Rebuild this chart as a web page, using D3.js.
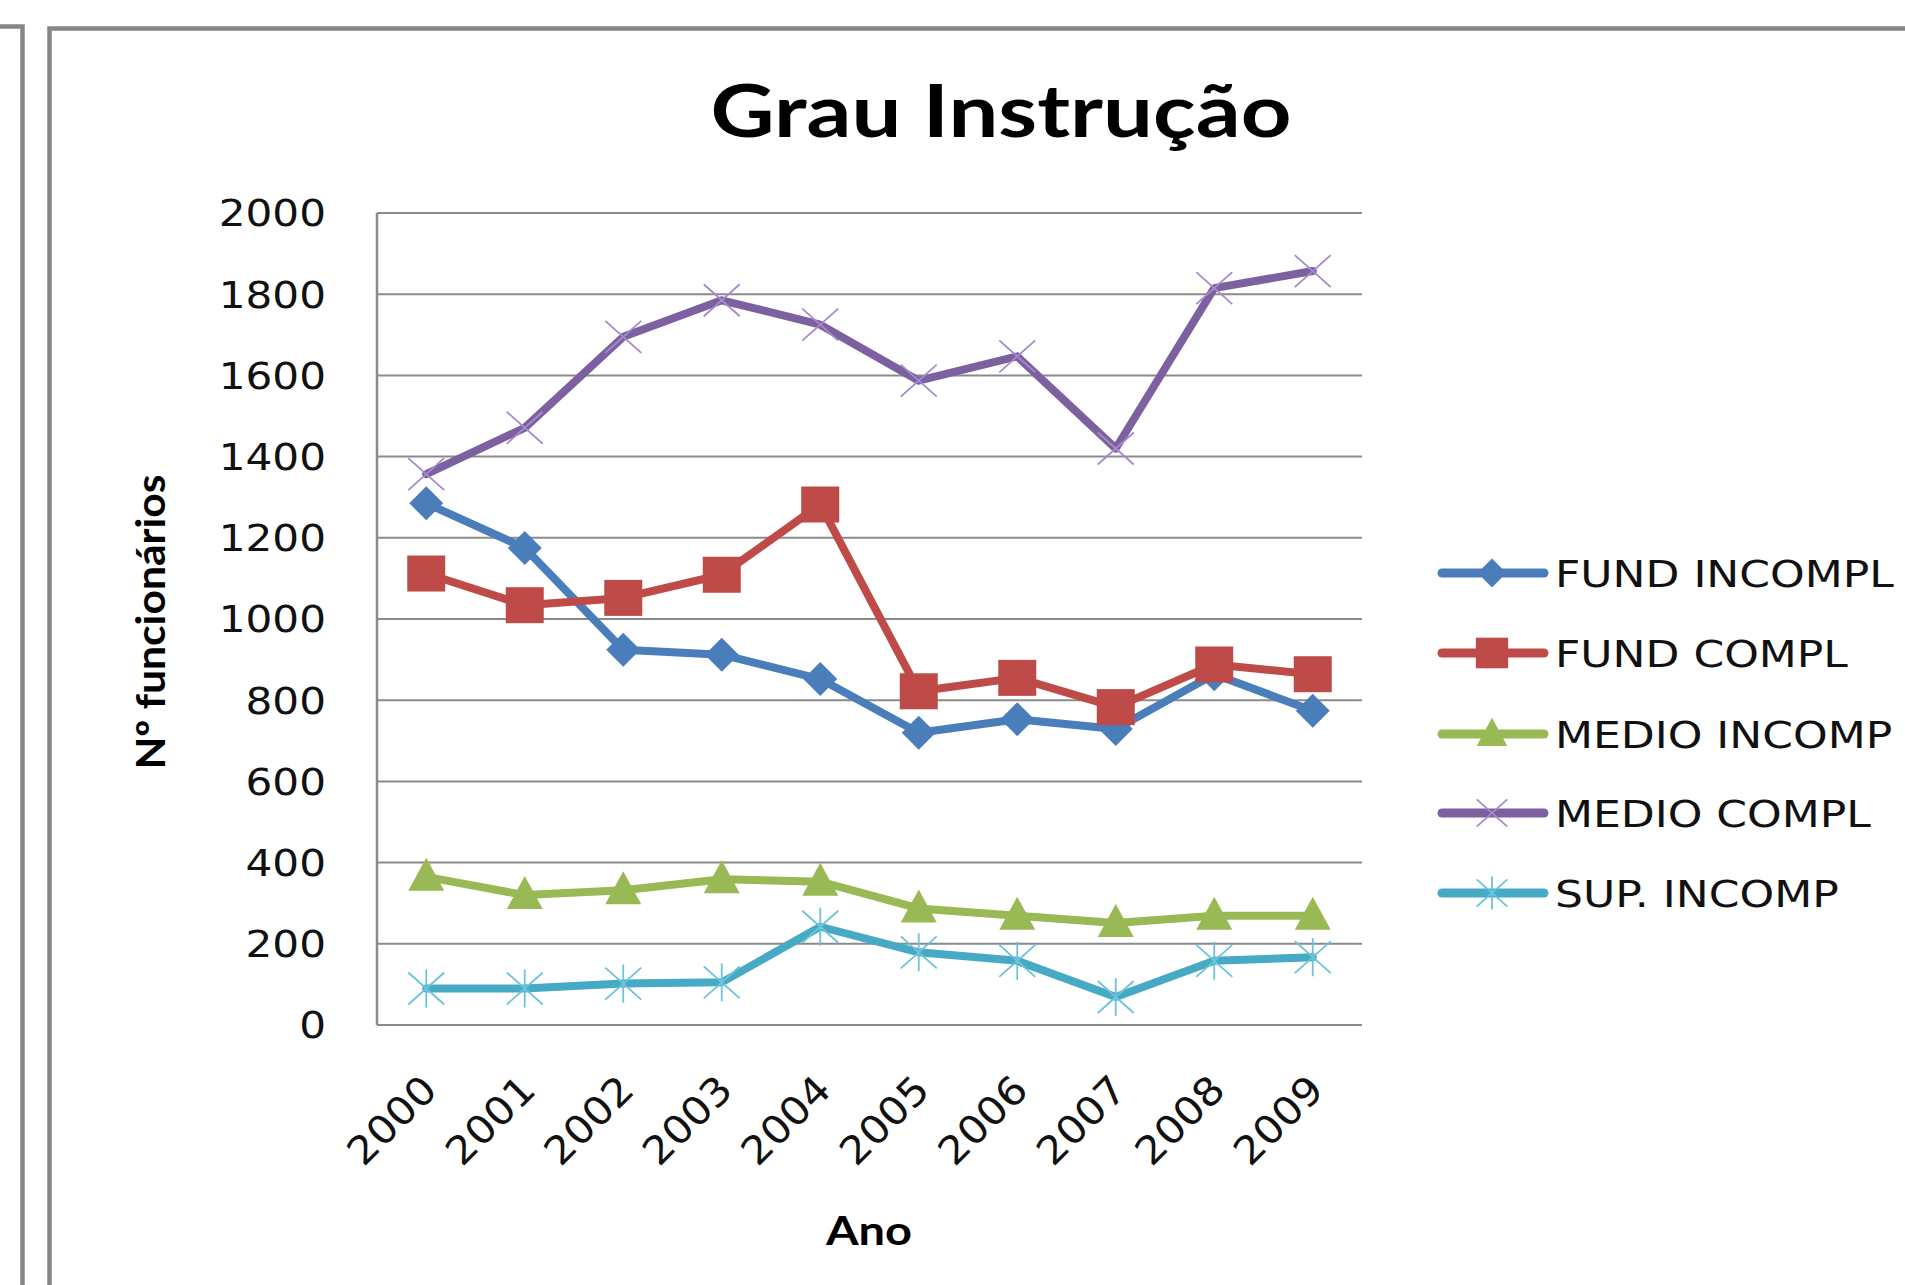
<!DOCTYPE html>
<html lang="pt">
<head>
<meta charset="UTF-8">
<title>Grau Instrução</title>
<script src="https://d3js.org/d3.v7.min.js"></script>
<style>
    body { margin: 0; background: #fff; overflow: hidden; }
    svg { display: block; }
</style>
</head>
<body>
<svg id="chart" width="1905" height="1285"></svg>
<script>
// data
const years = ["2000", "2001", "2002", "2003", "2004", "2005", "2006", "2007", "2008", "2009"];
const fundIncompl = [1285, 1175, 924, 912, 852, 720, 753, 729, 864, 774];
const fundCompl   = [1112, 1034, 1052, 1109, 1282, 822, 855, 783, 888, 864];
const medioIncomp = [365, 320, 332, 359, 353, 287, 269, 251, 269, 269];
const medioCompl  = [1357, 1471, 1695, 1785, 1725, 1587, 1647, 1420, 1815, 1857];
const supIncomp   = [90, 90, 102, 105, 242, 179, 158, 69, 158, 167];
const seriesNames = ["FUND INCOMPL", "FUND COMPL", "MEDIO INCOMP", "MEDIO COMPL", "SUP. INCOMP"];
const yTicks = [0, 200, 400, 600, 800, 1000, 1200, 1400, 1600, 1800, 2000];

const colors = ["#4a7ebb", "#be4b48", "#98b954", "#7d60a0", "#46aac5"];
const markColors = ["#4a7ebb", "#be4b48", "#98b954", "#a58bc9", "#6cc3dc"];
const markers = ["diamond", "square", "triangle", "x", "star"];
const series = [fundIncompl, fundCompl, medioIncomp, medioCompl, supIncomp];

const svg = d3.select("#chart");

// frames (neighbour chart edge + this chart)
svg.append("path").attr("d", "M0,26.5H22.5V1285").attr("fill", "none")
    .attr("stroke", "#868686").attr("stroke-width", 4.5);
svg.append("path").attr("d", "M49.5,1285V28.5H1905").attr("fill", "none")
    .attr("stroke", "#868686").attr("stroke-width", 4.5);

const plot = { left: 377, right: 1362, top: 213, bottom: 1025 };

const x = d3.scaleBand().domain(years).range([plot.left, plot.right]);
const y = d3.scaleLinear().domain([0, 2000]).range([plot.bottom, plot.top]);
const cx = d => x(d) + x.bandwidth() / 2;

// stretch text horizontally like the original
function stretch(sel, k) {
    sel.each(function() {
        const w = this.getComputedTextLength();
        d3.select(this).attr("textLength", w * k).attr("lengthAdjust", "spacingAndGlyphs");
    });
}

// title
svg.append("text")
    .attr("x", 1001).attr("y", 137)
    .attr("text-anchor", "middle")
    .style("font-family", "Lato, sans-serif").style("font-weight", "bold").style("font-size", "72px")
    .attr("textLength", 581).attr("lengthAdjust", "spacingAndGlyphs")
    .text("Grau Instrução");

// gridlines
svg.append("g").selectAll("line").data(yTicks).enter().append("line")
    .attr("x1", plot.left).attr("x2", plot.right)
    .attr("y1", d => y(d)).attr("y2", d => y(d))
    .attr("stroke", "#8a8a8a").attr("stroke-width", 2);

// left axis line
svg.append("line")
    .attr("x1", plot.left).attr("x2", plot.left)
    .attr("y1", plot.top).attr("y2", plot.bottom)
    .attr("stroke", "#8a8a8a").attr("stroke-width", 2.5);

// y tick labels
svg.append("g").selectAll("text").data(yTicks).enter().append("text")
    .attr("x", 326).attr("y", d => y(d)).attr("dy", "0.36em")
    .attr("text-anchor", "end")
    .style("font-family", "'DejaVu Sans', Verdana, sans-serif").style("font-size", "37px")
    .attr("fill", "#111")
    .text(d => d)
    .call(stretch, 1.14);

// x tick labels
svg.append("g").selectAll("text").data(years).enter().append("text")
    .attr("text-anchor", "end")
    .attr("transform", d => `translate(${cx(d) + 13},${plot.bottom + 67}) rotate(-45)`)
    .style("font-family", "'DejaVu Sans', Verdana, sans-serif").style("font-size", "39px")
    .attr("fill", "#111")
    .text(d => d)
    .call(stretch, 1.08);

// axis titles
svg.append("text")
    .attr("transform", `translate(165,622) rotate(-90)`)
    .attr("text-anchor", "middle")
    .style("font-family", "Lato, sans-serif").style("font-weight", "bold").style("font-size", "40px")
    .attr("textLength", 295).attr("lengthAdjust", "spacingAndGlyphs")
    .text("Nº funcionários");

svg.append("text")
    .attr("x", 869).attr("y", 1245)
    .attr("text-anchor", "middle")
    .style("font-family", "Lato, sans-serif").style("font-weight", "bold").style("font-size", "40px")
    .attr("textLength", 86).attr("lengthAdjust", "spacingAndGlyphs")
    .text("Ano");

// marker shapes
function drawMarker(g, type, color, big) {
    const k = big ? 1 : 0.85;
    if (type === "diamond") {
        g.append("path").attr("d", `M0,${-17 * k}L${17 * k},0L0,${17 * k}L${-17 * k},0Z`).attr("fill", color);
    } else if (type === "square") {
        g.append("rect").attr("x", -19 * k).attr("y", -18 * k).attr("width", 38 * k).attr("height", 36 * k).attr("fill", color);
    } else if (type === "triangle") {
        g.append("path").attr("d", `M0,${-19 * k}L${18 * k},${14 * k}L${-18 * k},${14 * k}Z`).attr("fill", color);
    } else {
        const hw = 18 * k, hh = 16 * k;
        let d = `M${-hw},${-hh}L${hw},${hh}M${-hw},${hh}L${hw},${-hh}`;
        if (type === "star") d += `M0,${-hh - 3}L0,${hh + 3}`;
        g.append("path").attr("d", d).attr("stroke", color).attr("stroke-width", 1.8).attr("fill", "none");
    }
}

const line = d3.line().x((d, i) => cx(years[i])).y(d => y(d));

series.forEach((vals, s) => {
    const g = svg.append("g");
    g.append("path").datum(vals)
        .attr("d", line)
        .attr("fill", "none")
        .attr("stroke", colors[s]).attr("stroke-width", 8)
        .attr("stroke-linejoin", "round").attr("stroke-linecap", "round");
    g.selectAll("g.m").data(vals).enter().append("g")
        .attr("class", "m")
        .attr("transform", (d, i) => `translate(${cx(years[i])},${y(d)})`)
        .each(function() { drawMarker(d3.select(this), markers[s], markColors[s], true); });
});

// legend
const rowY = [573, 653, 734, 813, 893];
const legend = svg.append("g");
seriesNames.forEach((name, s) => {
    const r = legend.append("g").attr("transform", `translate(0,${rowY[s]})`);
    r.append("line").attr("x1", 1442).attr("x2", 1544).attr("y1", 0).attr("y2", 0)
        .attr("stroke", colors[s]).attr("stroke-width", 9).attr("stroke-linecap", "round");
    const m = r.append("g").attr("transform", "translate(1492,0)");
    drawMarker(m, markers[s], markColors[s], false);
    r.append("text").attr("x", 1555).attr("y", 13.5)
        .style("font-family", "'DejaVu Sans', Verdana, sans-serif").style("font-size", "37px")
        .attr("fill", "#111")
        .text(name)
        .call(stretch, 1.19);
});
</script>
</body>
</html>
